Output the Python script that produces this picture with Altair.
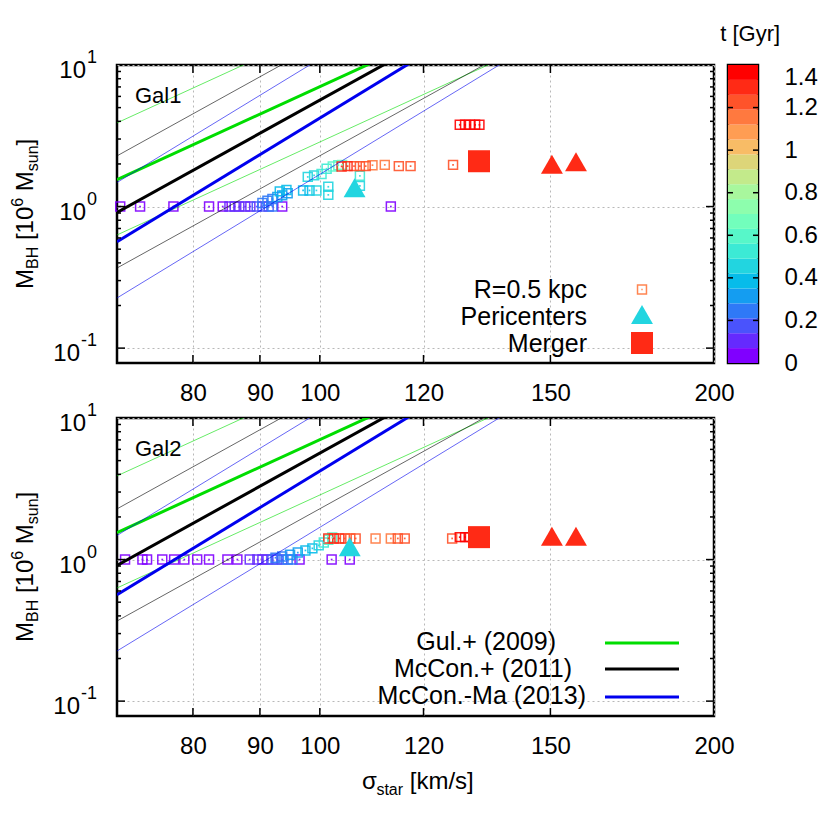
import altair as alt
import pandas as pd

# ---------------- data ----------------
x_ticks = [80, 90, 100, 120, 150, 200]
x_inner_ticks = [80, 90, 100, 120, 150]
y_ticks = [0.1, 1, 10]
y_tick_exp = ["-1", "0", "1"]
y_major_inner = [0.1, 1]
y_minor = [0.2, 0.3, 0.4, 0.5, 0.6, 0.7, 0.8, 0.9, 2, 3, 4, 5, 6, 7, 8, 9]
cb_ticks = [0, 0.2, 0.4, 0.6, 0.8, 1.0, 1.2, 1.4]
cb_inner_ticks = [0.2, 0.4, 0.6, 0.8, 1.0, 1.2]
cb_levels = [0.0, 0.07, 0.14, 0.21, 0.28, 0.35, 0.42, 0.49, 0.56, 0.63,
             0.70, 0.77, 0.84, 0.91, 0.98, 1.05, 1.12, 1.19, 1.26, 1.33]
palette = ["#8000ff", "#652afe", "#4a53fc", "#2f79f7", "#149df1", "#07bcea",
           "#22d5e0", "#3cead5", "#57f7c9", "#72febc", "#8dfead", "#a8f79d",
           "#c3ea8b", "#ddd579", "#f8bc66", "#ff9d53", "#ff793f", "#ff532a",
           "#ff2a15", "#ff0000"]

# Gal1 : squares at R=0.5 kpc
g1_sq_sigma = [70.4, 72.9, 77.3, 82.3, 113.3, 93.6, 84.3, 85.3, 86.1, 86.8, 87.7, 88.5, 89.5, 90.4, 91.4, 92.0,
               90.4, 91.2, 92.0, 92.8, 93.6, 94.5, 93.2, 94.3, 97.1, 98.2, 99.4, 101.5, 101.5, 97.9, 99.0, 100.3,
               107.3, 107.3, 101.2, 102.3, 103.3, 104.0,
               109.7, 112.1, 114.9, 117.3, 126.4, 108.4, 107.3, 106.2, 105.0, 103.9,
               127.9, 129.1, 130.2, 131.4, 132.4]
g1_sq_mbh = [1.0, 1.0, 1.0, 1.0, 1.0, 1.0, 1.0, 1.0, 1.0, 1.0, 1.0, 1.0, 1.0, 1.0, 1.0, 1.0,
             1.06, 1.10, 1.13, 1.17, 1.20, 1.24, 1.28, 1.31, 1.30, 1.30, 1.30, 1.21, 1.38, 1.62, 1.66, 1.70,
             1.40, 1.65, 1.85, 1.92, 1.96, 1.97,
             1.96, 1.97, 1.93, 1.93, 1.97, 1.93, 1.93, 1.93, 1.93, 1.92,
             3.78, 3.78, 3.78, 3.78, 3.78]
g1_sq_t = [0.00, 0.01, 0.02, 0.03, 0.03, 0.05, 0.06, 0.07, 0.08, 0.10, 0.11, 0.13, 0.15, 0.17, 0.19, 0.21,
           0.22, 0.24, 0.26, 0.28, 0.30, 0.33, 0.35, 0.37, 0.40, 0.41, 0.42, 0.43, 0.44, 0.46, 0.48, 0.50,
           0.47, 0.51, 0.55, 0.58, 0.62, 0.66,
           1.17, 1.18, 1.19, 1.20, 1.21, 1.23, 1.24, 1.25, 1.27, 1.29,
           1.36, 1.37, 1.38, 1.39, 1.40]
g1_peri_sigma = [106.3, 150.4, 156.9]
g1_peri_mbh = [1.36, 1.99, 2.07]
g1_peri_t = [0.45, 1.26, 1.27]
g1_merger_sigma = [132.3]
g1_merger_mbh = [2.09]
g1_merger_t = [1.31]

# Gal2
g2_sq_sigma = [71.0, 73.2, 73.8, 75.8, 77.4, 78.8, 80.6, 82.3, 85.0, 86.5, 88.4, 102.1, 105.4, 96.5,
               89.6, 90.4, 91.2, 92.0, 92.8, 93.6, 94.5, 95.3,
               92.5, 93.6, 94.9, 96.2, 97.5, 98.7, 99.8, 100.7, 101.5, 102.2,
               110.3, 113.3, 114.7, 116.1, 126.2, 106.5, 105.5, 104.5, 103.5, 102.5, 101.5,
               127.9, 129.1, 130.2]
g2_sq_mbh = [1.0, 1.0, 1.0, 1.0, 1.0, 1.0, 1.0, 1.0, 1.0, 1.0, 1.0, 1.0, 1.0, 1.0,
             1.0, 1.0, 1.0, 1.0, 1.0, 1.0, 1.0, 1.0,
             1.03, 1.05, 1.08, 1.12, 1.16, 1.20, 1.26, 1.32, 1.38, 1.43,
             1.41, 1.41, 1.41, 1.41, 1.41, 1.41, 1.41, 1.41, 1.41, 1.41, 1.41,
             1.44, 1.44, 1.44]
g2_sq_t = [0.00, 0.01, 0.01, 0.02, 0.02, 0.03, 0.03, 0.04, 0.05, 0.06, 0.07, 0.03, 0.04, 0.06,
           0.09, 0.11, 0.13, 0.15, 0.17, 0.19, 0.21, 0.23,
           0.25, 0.27, 0.30, 0.33, 0.37, 0.41, 0.46, 0.52, 0.57, 0.62,
           1.17, 1.18, 1.19, 1.20, 1.21, 1.23, 1.24, 1.25, 1.26, 1.27, 1.28,
           1.33, 1.34, 1.35]
g2_peri_sigma = [105.4, 150.4, 156.9]
g2_peri_mbh = [1.23, 1.46, 1.46]
g2_peri_t = [0.45, 1.26, 1.27]
g2_merger_sigma = [132.3]
g2_merger_mbh = [1.44]
g2_merger_t = [1.31]

# scaling relations: values at sigma = 70 and 200 km/s (thick = fit, thin = scatter)
rel_names = ["Gul.+ (2009)", "McCon.+ (2011)", "McCon.-Ma (2013)"]
rel_colors = ["#00dd00", "#000000", "#0000ee"]
rel_sigma = [70, 200]
gul_mid = [1.55, 132.8]
gul_hi = [3.9, 334.0]
gul_lo = [0.63, 54.0]
mc11_mid = [0.91, 196.0]
mc11_hi = [2.28, 492.0]
mc11_lo = [0.368, 79.4]
mcma_mid = [0.565, 210.0]
mcma_hi = [1.48, 551.0]
mcma_lo = [0.226, 84.2]

# ---------------- styling ----------------
W, H = 597, 298
FONT = "Liberation Sans"
XS = alt.Scale(type="log", domain=[70, 200], nice=False)
YS = alt.Scale(type="log", domain=[0.0785, 10], nice=False)
CS = alt.Scale(type="quantize", domain=[0, 1.4], range=palette)
ONE = pd.DataFrame({"k": [0]})

AW = {'M': .833, 'B': .667, 'H': .722, '[': .278, ']': .278, '0': .556, '1': .556, '6': .556,
      's': .5, 'u': .556, 'n': .556, 't': .278, 'a': .556, 'r': .333, 'k': .5, 'm': .833,
      '/': .278, 'σ': .6, ' ': .278, '-': .333}

GRID = dict(grid=True, gridColor="#b8b8b8", gridDash=[2, 3], gridWidth=1)
XA = alt.Axis(values=x_ticks, format="d", title=None, ticks=False, domain=False, labelFontSize=24,
              labelPadding=18, labelFlush=False, labelFont=FONT, labelColor="black", **GRID)
YA = alt.Axis(values=y_ticks, title=None, ticks=False, domain=False, labels=False, **GRID)
X = alt.X("sigma:Q", scale=XS, axis=XA)
Y = alt.Y("mbh:Q", scale=YS, axis=YA)


def tw(txt, fs):
    return sum(AW.get(c, .556) for c in txt) * fs


def txt(text, x, y, size, align="left", angle=0, baseline="alphabetic"):
    kw = dict(text=text, align=align, baseline=baseline, fontSize=size, font=FONT, color="black")
    if angle:
        kw["angle"] = angle
    return alt.Chart(ONE).mark_text(**kw).encode(x=alt.value(x), y=alt.value(y))


def y_labels():
    out = []
    right = -20
    for v, e in zip(y_ticks, y_tick_exp):
        d = pd.DataFrame({"mbh": [v]})
        xs = right - tw(e, 18)
        out.append(alt.Chart(d).mark_text(text="10", align="right", baseline="alphabetic", fontSize=24,
                                          font=FONT, color="black", dy=13)
                   .encode(y=Y, x=alt.value(xs - 1)))
        out.append(alt.Chart(d).mark_text(text=e, align="left", baseline="alphabetic", fontSize=18,
                                          font=FONT, color="black", dy=-2)
                   .encode(y=Y, x=alt.value(xs)))
    return out


def y_title():
    F, f = 24, 16
    xm, xs, xp = -84, -79, -94
    pieces = [("M", F, xm, 0), ("BH", f, xs, 0), ("[10", F, xm, tw(" ", F)), ("6", f, xp, 0),
              ("M", F, xm, tw(" ", F)), ("sun", f, xs, 0), ("]", F, xm, 0)]
    y = 224.0
    out = []
    for t, fs, x, gap in pieces:
        y -= gap
        out.append(txt(t, x, y, fs, angle=270))
        y -= tw(t, fs)
    return out


def x_title():
    F, f = 24, 16
    ym, ys = 371, 377
    pieces = [("σ", F, ym, 0), ("star", f, ys, 0), ("[km/s]", F, ym, tw(" ", F))]
    x = 245.0
    out = []
    for t, fs, y, gap in pieces:
        x += gap
        out.append(txt(t, x, y, fs))
        x += tw(t, fs)
    return out


def lines_layers():
    sets = [(gul_lo, gul_mid, gul_hi), (mc11_lo, mc11_mid, mc11_hi), (mcma_lo, mcma_mid, mcma_hi)]
    out = []
    for (lo, mid, hi), col in zip(sets, rel_colors):
        thin = pd.DataFrame({"sigma": rel_sigma * 2, "mbh": lo + hi, "band": ["lo", "lo", "hi", "hi"]})
        thick = pd.DataFrame({"sigma": rel_sigma, "mbh": mid})
        out.append(alt.Chart(thin).mark_line(color=col, strokeWidth=1, opacity=0.6, clip=True)
                   .encode(x=X, y=Y, detail="band:N"))
        out.append(alt.Chart(thick).mark_line(color=col, strokeWidth=3, clip=True).encode(x=X, y=Y))
    return out


def panel(sq, peri, merger, label, bottom):
    sq_df = pd.DataFrame({"sigma": sq[0], "mbh": sq[1], "t": sq[2]})
    pe_df = pd.DataFrame({"sigma": peri[0], "mbh": peri[1], "t": peri[2]})
    me_df = pd.DataFrame({"sigma": merger[0], "mbh": merger[1], "t": merger[2]})
    C = alt.Color("t:Q", scale=CS, legend=None)

    layers = []
    layers.append(alt.Chart(sq_df).mark_point(shape="square", filled=False, size=80, strokeWidth=1.5,
                                              opacity=0.9).encode(x=X, y=Y, color=C))
    layers.append(alt.Chart(sq_df).mark_point(shape="square", filled=True, size=3, opacity=0.9)
                  .encode(x=X, y=Y, color=C))
    layers.append(alt.Chart(pe_df).mark_point(shape="triangle-up", filled=True, size=480, opacity=1)
                  .encode(x=X, y=Y, color=C))
    layers.append(alt.Chart(me_df).mark_point(shape="square", filled=True, size=484, opacity=1)
                  .encode(x=X, y=Y, color=C))
    layers += lines_layers()

    # inward ticks
    xt = pd.DataFrame({"sigma": x_inner_ticks})
    ym = pd.DataFrame({"mbh": y_major_inner})
    yn = pd.DataFrame({"mbh": y_minor})
    rk = dict(color="black", strokeWidth=1.5)
    layers.append(alt.Chart(xt).mark_rule(**rk).encode(x=X, y=alt.value(H - 8), y2=alt.value(H)))
    layers.append(alt.Chart(xt).mark_rule(**rk).encode(x=X, y=alt.value(0), y2=alt.value(8)))
    layers.append(alt.Chart(ym).mark_rule(**rk).encode(y=Y, x=alt.value(0), x2=alt.value(8)))
    layers.append(alt.Chart(ym).mark_rule(**rk).encode(y=Y, x=alt.value(W - 8), x2=alt.value(W)))
    layers.append(alt.Chart(yn).mark_rule(**rk).encode(y=Y, x=alt.value(0), x2=alt.value(4)))
    layers.append(alt.Chart(yn).mark_rule(**rk).encode(y=Y, x=alt.value(W - 4), x2=alt.value(W)))

    layers.append(txt(label, 18, 38, 22))
    layers += y_labels()
    layers += y_title()

    if not bottom:
        layers.append(txt("R=0.5 kpc", 470, 233, 25, align="right"))
        layers.append(txt("Pericenters", 470, 260, 25, align="right"))
        layers.append(txt("Merger", 470, 287, 25, align="right"))
        layers.append(alt.Chart(ONE).mark_point(shape="square", filled=False, size=80, strokeWidth=1.5,
                                                color=palette[16], opacity=0.9)
                      .encode(x=alt.value(525), y=alt.value(224.5)))
        layers.append(alt.Chart(ONE).mark_point(shape="square", filled=True, size=3, color=palette[16])
                      .encode(x=alt.value(525), y=alt.value(224.5)))
        layers.append(alt.Chart(ONE).mark_point(shape="triangle-up", filled=True, size=480,
                                                color=palette[6], opacity=1)
                      .encode(x=alt.value(525), y=alt.value(249.5)))
        layers.append(alt.Chart(ONE).mark_point(shape="square", filled=True, size=484,
                                                color=palette[18], opacity=1)
                      .encode(x=alt.value(525), y=alt.value(278)))
    else:
        ends = [439, 455, 469]
        bases = [232, 259, 286]
        lys = [225, 251, 279]
        for name, col, xe, yb, ly in zip(rel_names, rel_colors, ends, bases, lys):
            layers.append(txt(name, xe, yb, 25, align="right"))
            layers.append(alt.Chart(ONE).mark_rule(color=col, strokeWidth=3)
                          .encode(x=alt.value(488), x2=alt.value(562), y=alt.value(ly)))
        layers += x_title()

    return alt.layer(*layers).properties(width=W, height=H)


top = panel((g1_sq_sigma, g1_sq_mbh, g1_sq_t), (g1_peri_sigma, g1_peri_mbh, g1_peri_t),
            (g1_merger_sigma, g1_merger_mbh, g1_merger_t), "Gal1", False)
bot = panel((g2_sq_sigma, g2_sq_mbh, g2_sq_t), (g2_peri_sigma, g2_peri_mbh, g2_peri_t),
            (g2_merger_sigma, g2_merger_mbh, g2_merger_t), "Gal2", True)

# colour bar
cb_df = pd.DataFrame({"lo": cb_levels})
CBS = alt.Scale(domain=[0, 1.4], nice=False, zero=False)
cb_axis = alt.Axis(orient="right", values=cb_ticks, format=".1~f", labelFontSize=24, labelPadding=26,
                   ticks=False, domain=False, grid=False, title=None, labelFlush=False, labelFont=FONT,
                   labelColor="black",
                   labelBaseline={"condition": {"test": "datum.value >= 1.39", "value": "top"},
                                  "value": "middle"})
CBY = alt.Y("lo:Q", scale=CBS, axis=cb_axis)
bars = alt.Chart(cb_df).transform_calculate(hi="datum.lo + 0.07", mid="datum.lo + 0.035").mark_rect().encode(
    x=alt.value(0), x2=alt.value(30),
    y=CBY, y2="hi:Q",
    color=alt.Color("mid:Q", scale=CS, legend=None))
cbt = pd.DataFrame({"lo": cb_inner_ticks})
cb_t1 = alt.Chart(cbt).mark_rule(color="black", strokeWidth=1.5).encode(
    y=CBY, x=alt.value(0), x2=alt.value(5))
cb_t2 = alt.Chart(cbt).mark_rule(color="black", strokeWidth=1.5).encode(
    y=CBY, x=alt.value(25), x2=alt.value(30))
cbar = alt.layer(bars, cb_t1, cb_t2).properties(
    width=30, height=H,
    title=alt.TitleParams("t [Gyr]", fontSize=22, font=FONT, fontWeight="normal", anchor="start",
                          dx=-7, offset=19, color="black"))

chart = alt.concat(top, cbar, bot, columns=2, spacing={"row": 55, "column": 14}, bounds="flush").properties(
    padding={"left": 0, "top": 13, "right": 2, "bottom": 2}
).configure(font=FONT).configure_view(stroke="black", strokeWidth=2.5)

chart.save("out.html", embed_options={"renderer": "svg", "actions": False})
